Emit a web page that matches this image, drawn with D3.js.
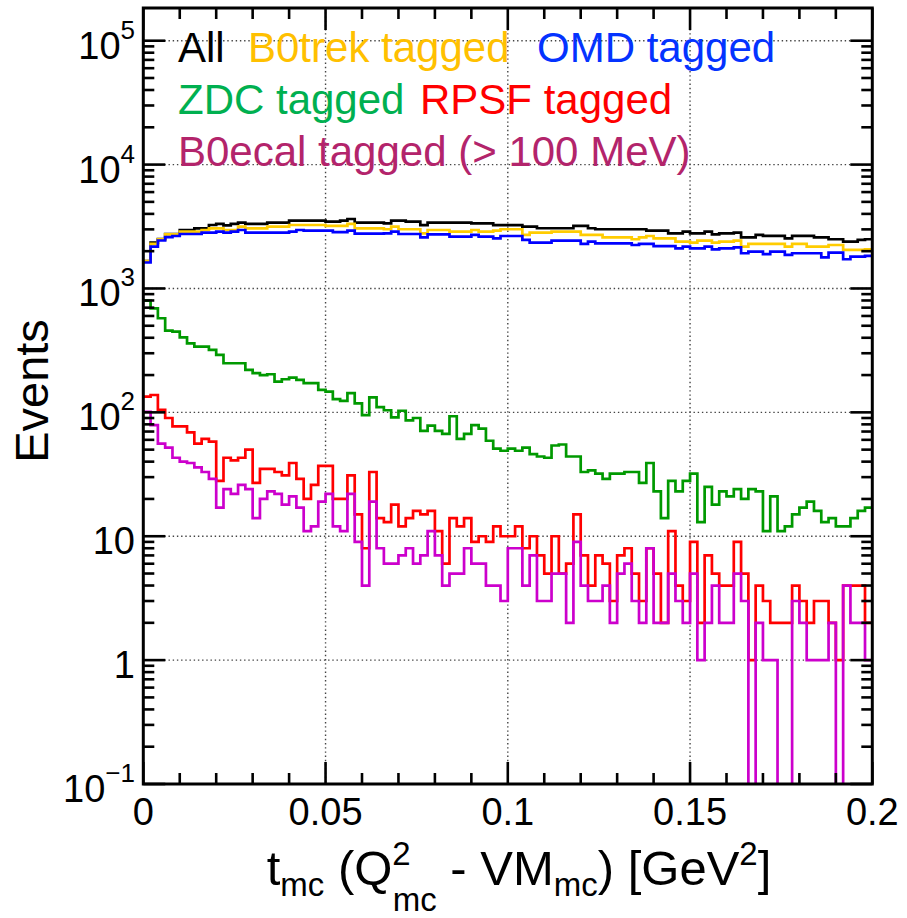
<!DOCTYPE html>
<html><head><meta charset="utf-8">
<script src="https://cdn.jsdelivr.net/npm/d3@7"></script>
<style>body{margin:0;background:#fff}svg{display:block}</style>
</head><body>
<svg id="chart" width="907" height="918"></svg>
<script>
// ---------------- data ----------------
const xMin = 0, xMax = 0.2, nBins = 100;
const allEvents = [1667,2344,2508,2753,2753,2966,2966,3059,3059,3254,3316,3234,3316,3399,3316,3316,3316,3399,3399,3399,
 3528,3528,3528,3528,3528,3463,3463,3528,3638,3399,3399,3399,3399,3357,3524,3524,3460,3460,3251,3396,
 3396,3396,3396,3396,3396,3357,3357,3357,3251,3251,3251,3251,3155,3155,3062,3062,3062,3062,3062,3200,
 3200,3062,3006,3006,3006,3006,3006,3006,3006,2930,2930,2930,2786,2786,2872,2786,2786,2872,2737,2786,
 2786,2820,2589,2589,2703,2657,2657,2657,2541,2657,2657,2657,2589,2589,2497,2497,2389,2389,2466,2497];
const b0trekTagged = [1667,2287,2490,2736,2736,2875,2875,2875,2966,3059,3059,2966,2966,3155,3059,3059,3059,3155,3155,3155,
 3254,3254,3254,3254,3254,3200,3200,3200,3316,3059,3059,3059,3059,3006,3155,3006,3006,3006,2787,2966,
 2966,2966,2875,2875,2875,2966,2875,2875,2929,3006,3006,3006,2703,2822,2822,2822,2875,2875,2875,2875,
 2703,2703,2703,2588,2588,2588,2588,2497,2588,2653,2541,2541,2541,2388,2388,2344,2433,2433,2344,2388,
 2388,2433,2176,2287,2287,2287,2287,2287,2176,2287,2287,2176,2176,2176,2243,2243,2046,2046,2046,2070];
const omdTagged = [1620,2176,2440,2600,2653,2753,2753,2753,2822,2822,2875,2822,2875,2966,2822,2822,2822,2822,2822,2822,
 2875,2966,2929,2929,2929,2929,2850,2850,2929,2770,2770,2770,2770,2787,2872,2753,2753,2753,2588,2736,
 2736,2736,2620,2620,2620,2703,2620,2620,2541,2653,2653,2653,2463,2344,2344,2344,2433,2433,2433,2433,
 2287,2388,2316,2316,2316,2316,2316,2243,2287,2287,2201,2201,2201,2109,2174,2109,2109,2174,2070,2109,
 2109,2148,1924,1983,1983,1896,1983,1983,1866,1924,1924,1924,1924,1783,1947,1947,1722,1808,1808,1832];
const zdcTagged = [798,692,575,456,448,403,361,339,339,319,291,249,249,249,220,207,200,203,177,185,
 191,183,172,172,152,147,128,124,143,118,95,132,110,104,91,103,86,90,71,78,
 71,67,93,61,67,79,74,59,51,49,51,49,52,46,44,43,54,55,44,44,
 33,34,32,29,32,32,33,33,27,39,23,14,28,23,28,32,13,25,18,23,
 21,24,20,24,23,11,21,11,12,15,17,19,16,13,14,12,12,14,16,17];
const rpsfTagged = [134,138,105,90,77,77,69,56,61,58,28,43,41,43,50,27,35,35,33,31,
 39,29,20,26,37,37,20,20,31,15,8,33,14,13,18,12,14,16,15,16,
 11,6,14,12,14,9,10,9,12,10,10,12,8,10,7,5,10,5,6,15,
 7,4,7,6,3,7,8,5,3,8,5,2,11,4,3,9,2,7,5,4,
 4,9,5,1,4,3,2,2,2,4,3,2,3,3,2,1,4,4,4,2];
const b0ecalTagged = [101,79,56,52,43,40,39,36,33,29,17,24,22,26,24,14,20,23,22,18,
 21,17,11,12,19,22,12,11,22,9,4,19,8,6,6,7,8,6,7,11,
 7,4,5,5,8,6,6,4,4,3,8,8,4,7,3,3,5,5,2,9,
 4,3,3,4,2,5,6,3,2,8,2,2,5,3,2,5,1,2,4,2,
 2,5,3,0,2,1,1,0,0,3,2,1,1,1,2,0,4,2,2,1];

const xMajorTicks = [0, 0.05, 0.1, 0.15, 0.2];
const xTickLabels = ["0", "0.05", "0.1", "0.15", "0.2"];
const yDecades = [-1, 0, 1, 2, 3, 4, 5];
const yTickLabels = [["10","\u22121"], ["1",""], ["10",""], ["10","2"], ["10","3"], ["10","4"], ["10","5"]];
const seriesNames = ["All", "B0trek tagged", "OMD tagged", "ZDC tagged", "RPSF tagged", "B0ecal tagged (> 100 MeV)"];

// ---------------- layout ----------------
const FONT = "'Liberation Sans', Arial, Helvetica, sans-serif";
const L = 143.3, R = 872.3, T = 8, B = 784;
const svg = d3.select("#chart");
const x = d3.scaleLinear().domain([xMin, xMax]).range([L, R]);
const y = d3.scaleLog().domain([0.1, Math.pow(10, 5.264)]).range([B, T]);

const series = [
  {vals: allEvents,    line: "#000000", text: "#000000"},
  {vals: b0trekTagged, line: "#FFCC00", text: "#FFC000"},
  {vals: omdTagged,    line: "#0000FF", text: "#0433FF"},
  {vals: zdcTagged,    line: "#009900", text: "#00B050"},
  {vals: rpsfTagged,   line: "#FF0000", text: "#FF0000"},
  {vals: b0ecalTagged, line: "#CC00CC", text: "#B3246B"}
];

// clip
svg.append("defs").append("clipPath").attr("id","frameclip")
  .append("rect").attr("x", L).attr("y", T).attr("width", R-L).attr("height", B-T);

// grid
const grid = svg.append("g").attr("stroke","#444").attr("stroke-width",1.4).attr("stroke-dasharray","1.4,2.8");
xMajorTicks.filter(v => v > xMin && v < xMax).forEach(v => {
  grid.append("line").attr("x1", x(v)).attr("x2", x(v)).attr("y1", T).attr("y2", B);
});
yDecades.forEach(d => {
  const yy = y(Math.pow(10, d));
  if (yy > T + 1 && yy < B - 1) grid.append("line").attr("x1", L).attr("x2", R).attr("y1", yy).attr("y2", yy);
});

// histograms
const bw = (xMax - xMin) / nBins;
function stepPath(vals) {
  let d = "";
  vals.forEach((v, i) => {
    const x0 = x(xMin + i*bw), x1 = x(xMin + (i+1)*bw);
    const yy = v > 0 ? y(v) : B + 10;
    d += (i === 0 ? "M" : "L") + x0 + "," + yy + "L" + x1 + "," + yy;
  });
  return d;
}
const hg = svg.append("g").attr("clip-path","url(#frameclip)");
series.forEach(s => {
  hg.append("path").attr("d", stepPath(s.vals)).attr("fill","none")
    .attr("stroke", s.line).attr("stroke-width", 2.7).attr("stroke-linejoin","miter");
});

// ticks
const tk = svg.append("g").attr("stroke","#000").attr("stroke-width",2.6);
const majLen = 22, minLen = 11;
for (let i = 0; i <= 20; i++) {
  const v = xMin + i*0.01;
  const len = (i % 5 === 0) ? majLen : minLen;
  const xx = x(v);
  tk.append("line").attr("x1", xx).attr("x2", xx).attr("y1", B).attr("y2", B - len);
  tk.append("line").attr("x1", xx).attr("x2", xx).attr("y1", T).attr("y2", T + len);
}
const yTop = y.domain()[1];
for (let d = -1; d <= 5; d++) {
  for (let m = 1; m <= 9; m++) {
    const v = m * Math.pow(10, d);
    if (v > yTop) continue;
    const yy = y(v);
    const len = m === 1 ? majLen : minLen;
    tk.append("line").attr("x1", L).attr("x2", L + len).attr("y1", yy).attr("y2", yy);
    tk.append("line").attr("x1", R).attr("x2", R - len).attr("y1", yy).attr("y2", yy);
  }
}
// frame
svg.append("rect").attr("x", L).attr("y", T).attr("width", R-L).attr("height", B-T)
  .attr("fill","none").attr("stroke","#000").attr("stroke-width",3);

// y tick labels
yDecades.forEach((d, i) => {
  const yy = y(Math.pow(10, d));
  const t = svg.append("text").attr("x", 135).attr("y", yy + 18).attr("text-anchor","end")
    .attr("font-family", FONT).attr("font-size", 38).attr("fill","#000");
  t.append("tspan").text(yTickLabels[i][0]);
  if (yTickLabels[i][1]) t.append("tspan").attr("dy", -20).attr("font-size", 26).text(yTickLabels[i][1]);
});
// x tick labels
xMajorTicks.forEach((v, i) => {
  svg.append("text").attr("x", x(v)).attr("y", 825).attr("text-anchor","middle")
    .attr("font-family", FONT).attr("font-size", 38).attr("fill","#000").text(xTickLabels[i]);
});

// axis titles
svg.append("text").attr("transform","translate(48,391) rotate(-90)").attr("text-anchor","middle")
  .attr("font-family", FONT).attr("font-size", 47).attr("fill","#000").text("Events");

const xt = svg.append("text").attr("x", 519).attr("y", 885).attr("text-anchor","middle")
  .attr("font-family", FONT).attr("font-size", 49).attr("fill","#000");
xt.append("tspan").text("t");
xt.append("tspan").attr("dy", 11).attr("font-size", 33).text("mc");
xt.append("tspan").attr("dy", -11).text(" (Q");
xt.append("tspan").attr("dy", -20).attr("font-size", 33).text("2");
xt.append("tspan").attr("dx", -18).attr("dy", 46).attr("font-size", 33).text("mc");
xt.append("tspan").attr("dy", -26).text(" - VM");
xt.append("tspan").attr("dy", 11).attr("font-size", 33).text("mc");
xt.append("tspan").attr("dy", -11).text(") [GeV");
xt.append("tspan").attr("dy", -20).attr("font-size", 33).text("2");
xt.append("tspan").attr("dy", 20).text("]");

// legend text
const legendPos = [[178,62],[248,62],[537,62],[178,114],[420,114],[178,166]];
seriesNames.forEach((n, i) => {
  svg.append("text").attr("x", legendPos[i][0]).attr("y", legendPos[i][1])
    .attr("font-family", FONT).attr("font-size", 42).attr("fill", series[i].text).text(n);
});
</script>
</body></html>
